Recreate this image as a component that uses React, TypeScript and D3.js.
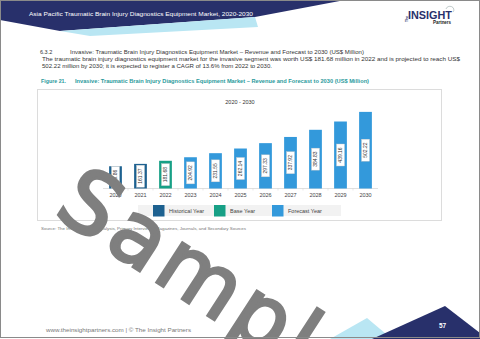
import { useEffect, useRef } from "react";
import * as d3 from "d3";

// Chart values
const years = ["2020", "2021", "2022", "2023", "2024", "2025", "2026", "2027", "2028", "2029", "2030"];
const revenue = [145.86, 161.37, 181.68, 204.92, 231.55, 262.14, 297.33, 337.92, 384.83, 439.16, 502.22];
const yearType = ["Historical", "Historical", "Base", "Forecast", "Forecast", "Forecast", "Forecast", "Forecast", "Forecast", "Forecast", "Forecast"];
const legendKeys = ["Historical", "Base", "Forecast"];
const legendLabels = ["Historical Year", "Base Year", "Forecast Year"];

const typeColor: Record<string, string> = {
	Historical: "#1d6190",
	Base: "#17a086",
	Forecast: "#3399db",
};

const FONT = "'Liberation Sans', Arial, sans-serif";

export default function App() {
	const ref = useRef<SVGSVGElement>(null);

	useEffect(() => {
		const svg = d3.select(ref.current);
		svg.selectAll("*").remove();

		const W = 480;
		const H = 339;

		svg.append("rect").attr("width", W).attr("height", H).attr("fill", "#fff");

		// Header shapes
		svg.append("polygon")
			.attr("points", "0,0 345,0 255,17 60,31 0,20")
			.attr("fill", "#28306b");
		svg.append("polygon")
			.attr("points", "60,31 255,17 258,27 90,36")
			.attr("fill", "#b9e6f3");

		svg.append("text")
			.attr("x", 29).attr("y", 16)
			.attr("font-family", FONT).attr("font-size", 6)
			.attr("fill", "#fff")
			.attr("textLength", 224).attr("lengthAdjust", "spacingAndGlyphs")
			.text("Asia Pacific Traumatic Brain Injury Diagnostics Equipment Market, 2020-2030");

		// Logo
		const logo = svg.append("g");
		logo.append("text")
			.attr("transform", "translate(408,22) rotate(-90)")
			.attr("font-family", FONT).attr("font-size", 3.5).attr("font-weight", "bold")
			.attr("fill", "#28306b")
			.text("The");
		logo.append("text")
			.attr("x", 408).attr("y", 18.5)
			.attr("font-family", FONT).attr("font-size", 11).attr("font-weight", "bold")
			.attr("fill", "#28306b")
			.attr("textLength", 44).attr("lengthAdjust", "spacingAndGlyphs")
			.text("INSIGHT");
		logo.append("text")
			.attr("x", 433).attr("y", 23.5)
			.attr("font-family", FONT).attr("font-size", 4.6).attr("font-weight", "bold")
			.attr("fill", "#222")
			.attr("textLength", 18).attr("lengthAdjust", "spacingAndGlyphs")
			.text("Partners");
		logo.append("path")
			.attr("d", "M446,9 A4,3.5 0 1 1 453,12")
			.attr("fill", "none").attr("stroke", "#9aa").attr("stroke-width", 0.6);

		// Section heading + paragraph
		const body = svg.append("g").attr("font-family", FONT).attr("fill", "#333");
		body.append("text").attr("x", 40).attr("y", 53.5).attr("font-size", 5.5).text("6.3.2");
		body.append("text").attr("x", 70).attr("y", 53.5).attr("font-size", 5.5)
			.attr("textLength", 294).attr("lengthAdjust", "spacingAndGlyphs")
			.text("Invasive: Traumatic Brain Injury Diagnostics Equipment Market \u2013 Revenue and Forecast to 2030 (US$ Million)");
		body.append("text").attr("x", 42).attr("y", 60.5).attr("font-size", 5)
			.attr("textLength", 418).attr("lengthAdjust", "spacingAndGlyphs")
			.text("The traumatic brain injury diagnostics equipment market for the invasive segment was worth US$ 181.68 million in 2022 and is projected to reach US$");
		body.append("text").attr("x", 42).attr("y", 67.5).attr("font-size", 5)
			.attr("textLength", 230).attr("lengthAdjust", "spacingAndGlyphs")
			.text("502.22 million by 2030; it is expected to register a CAGR of 13.6% from 2022 to 2030.");

		// Figure caption
		const cap = svg.append("g").attr("font-family", FONT).attr("fill", "#2b9a9c").attr("font-weight", "bold");
		cap.append("text").attr("x", 41).attr("y", 83).attr("font-size", 5.3).text("Figure 21.");
		cap.append("text").attr("x", 75).attr("y", 83).attr("font-size", 5.3)
			.attr("textLength", 294).attr("lengthAdjust", "spacingAndGlyphs")
			.text("Invasive: Traumatic Brain Injury Diagnostics Equipment Market \u2013 Revenue and Forecast to 2030 (US$ Million)");

		// Chart frame
		svg.append("rect")
			.attr("x", 37.5).attr("y", 89.5).attr("width", 404).attr("height", 131)
			.attr("fill", "#fff").attr("stroke", "#dcdcdc").attr("stroke-width", 1);

		svg.append("text")
			.attr("x", 240).attr("y", 103.5).attr("text-anchor", "middle")
			.attr("font-family", FONT).attr("font-size", 5.5).attr("fill", "#333")
			.text("2020 - 2030");

		// Scales
		const x = d3.scaleBand<string>()
			.domain(years)
			.range([103, 378])
			.paddingInner(0.49)
			.paddingOuter(0.245);

		const y = d3.scaleLinear()
			.domain([0, 550])
			.range([188.5, 104.6]);

		// Axis line with small ticks
		const axis = svg.append("g").attr("transform", "translate(0,188.5)");
		axis.append("line").attr("x1", 103).attr("x2", 378).attr("stroke", "#d8d8d8").attr("stroke-width", 0.8);
		axis.selectAll(".tk")
			.data(years.slice(1))
			.enter()
			.append("line")
			.attr("x1", d => x(d)! - x.step() * 0.245)
			.attr("x2", d => x(d)! - x.step() * 0.245)
			.attr("y1", 0).attr("y2", 2)
			.attr("stroke", "#d8d8d8").attr("stroke-width", 0.6);
		axis.selectAll(".lbl")
			.data(years)
			.enter()
			.append("text")
			.attr("x", d => x(d)! + x.bandwidth() / 2)
			.attr("y", 8.8)
			.attr("text-anchor", "middle")
			.attr("font-family", FONT).attr("font-size", 5.5).attr("fill", "#444")
			.text(d => d);

		// Bars
		svg.append("g").selectAll("rect")
			.data(years)
			.enter()
			.append("rect")
			.attr("x", d => x(d)!)
			.attr("y", (d, i) => y(revenue[i]))
			.attr("width", x.bandwidth())
			.attr("height", (d, i) => y(0) - y(revenue[i]))
			.attr("fill", (d, i) => typeColor[yearType[i]]);

		// Value labels (rotated, in white boxes)
		const labels = svg.append("g").selectAll("g")
			.data(years)
			.enter()
			.append("g")
			.attr("transform", (d, i) => {
				const cx = x(d)! + x.bandwidth() / 2;
				const cy = (y(revenue[i]) + y(0)) / 2;
				return `translate(${cx},${cy})`;
			});
		labels.append("rect")
			.attr("x", -4).attr("y", -11)
			.attr("width", 8).attr("height", 22)
			.attr("fill", "#fff").attr("stroke", "#c8c8c8").attr("stroke-width", 0.4);
		labels.append("text")
			.attr("transform", "rotate(-90)")
			.attr("y", 1.8)
			.attr("text-anchor", "middle")
			.attr("font-family", FONT).attr("font-size", 5).attr("fill", "#333")
			.text((d, i) => revenue[i].toFixed(2));

		// Legend
		svg.append("rect")
			.attr("x", 138).attr("y", 205).attr("width", 203).attr("height", 11)
			.attr("fill", "#f2f2f2");
		const legendX = [153, 214, 272];
		const leg = svg.append("g").selectAll("g")
			.data(legendKeys)
			.enter()
			.append("g")
			.attr("transform", (d, i) => `translate(${legendX[i]},205)`);
		leg.append("rect")
			.attr("width", 11.5).attr("height", 11.5)
			.attr("fill", d => typeColor[d]);
		leg.append("text")
			.attr("x", 16).attr("y", 7.8)
			.attr("font-family", FONT).attr("font-size", 5.5).attr("fill", "#444")
			.text((d, i) => legendLabels[i]);

		// Source
		svg.append("text")
			.attr("x", 41).attr("y", 229.5)
			.attr("font-family", FONT).attr("font-size", 3.8).attr("fill", "#777")
			.attr("textLength", 205).attr("lengthAdjust", "spacingAndGlyphs")
			.text("Source: The Insight Partners Analysis, Primary Interviews, Magazines, Journals, and Secondary Sources");

		// Footer
		svg.append("text")
			.attr("x", 46).attr("y", 331.5)
			.attr("font-family", FONT).attr("font-size", 4.5).attr("fill", "#777")
			.attr("textLength", 145).attr("lengthAdjust", "spacingAndGlyphs")
			.text("www.theinsightpartners.com  |  \u00a9 The Insight Partners");

		svg.append("polygon")
			.attr("points", "330,339 367,318 392,339")
			.attr("fill", "#b9e6f3");
		svg.append("polygon")
			.attr("points", "372,339 445,306 480,333 480,339")
			.attr("fill", "#28306b");
		svg.append("text")
			.attr("x", 442.5).attr("y", 328)
			.attr("text-anchor", "middle")
			.attr("font-family", FONT).attr("font-size", 6.5).attr("font-weight", "bold")
			.attr("fill", "#fff")
			.text("57");

		// Watermark
		svg.append("text")
			.attr("transform", "translate(52,214) rotate(33)")
			.attr("font-family", "'DejaVu Sans', sans-serif").attr("font-size", 86)
			.attr("letter-spacing", 5)
			.attr("fill", "#7f7f7f")
			.attr("stroke", "#7f7f7f").attr("stroke-width", 3)
			.text("Sample");

		// Page border
		svg.append("rect")
			.attr("x", 0.5).attr("y", 0.5).attr("width", W - 1).attr("height", H - 2)
			.attr("fill", "none").attr("stroke", "#8a8a8a").attr("stroke-width", 1);
	}, []);

	return (
		<svg
			ref={ref}
			width={480}
			height={339}
			style={{ position: "absolute", left: 0, top: 0, display: "block" }}
		/>
	);
}
